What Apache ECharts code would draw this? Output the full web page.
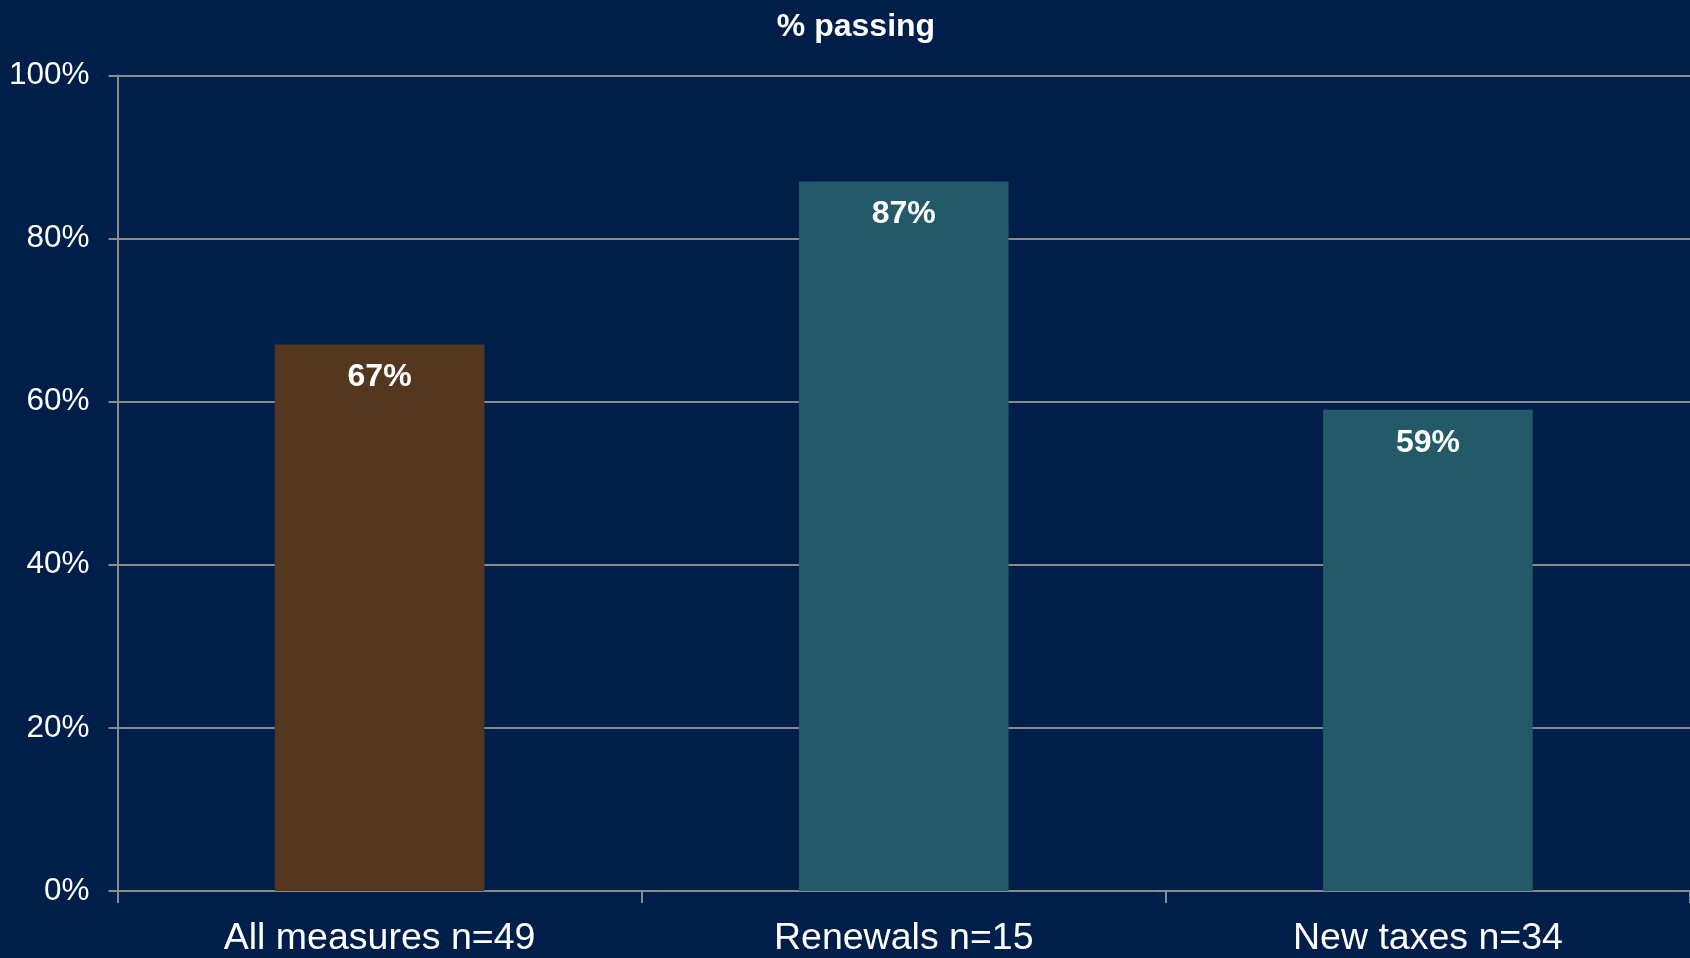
<!DOCTYPE html>
<html>
<head>
<meta charset="utf-8">
<title>% passing</title>
<script src="https://cdn.jsdelivr.net/npm/echarts@6/dist/echarts.min.js"></script>
<style>
  html, body { margin: 0; padding: 0; background: #001E4A; }
  #chart { width: 1690px; height: 958px; }
</style>
</head>
<body>
<div id="chart"></div>
<script>
// Share of measures passing, by measure type
const categories = ['All measures n=49', 'Renewals n=15', 'New taxes n=34'];
const passingPct = [67, 87, 59];
const yTicks = [0, 20, 40, 60, 80, 100];

const FONT = '"Liberation Sans", Arial, sans-serif';
const barFill = ['#54371F', '#225A68', '#225A68'];
const axisGray = '#8A8A8A';

const chart = echarts.init(document.getElementById('chart'), null, { renderer: 'canvas' });

chart.setOption({
  backgroundColor: '#001E4A',
  animation: false,
  title: {
    text: '% passing',
    left: 851,
    top: 6,
    textAlign: 'center',
    textStyle: { color: '#FFFFFF', fontFamily: FONT, fontWeight: 'bold', fontSize: 32 }
  },
  grid: { left: 117.5, right: 0, top: 75.5, bottom: 64.5, containLabel: false },
  xAxis: {
    type: 'category',
    data: categories,
    boundaryGap: true,
    axisLine: { lineStyle: { color: axisGray, width: 2 } },
    axisTick: { show: true, length: 12, alignWithLabel: false, lineStyle: { color: axisGray, width: 2 } },
    axisLabel: { color: '#FFFFFF', fontFamily: FONT, fontSize: 37.5, margin: 29, interval: 0 },
    splitLine: { show: false }
  },
  yAxis: {
    type: 'value',
    min: yTicks[0],
    max: yTicks[yTicks.length - 1],
    interval: yTicks[1] - yTicks[0],
    axisLine: { show: true, lineStyle: { color: axisGray, width: 2 } },
    axisTick: { show: true, length: 9, lineStyle: { color: axisGray, width: 2 } },
    axisLabel: { color: '#FFFFFF', fontFamily: FONT, fontSize: 31.5, margin: 28, formatter: '{value}%' },
    splitLine: { show: true, lineStyle: { color: axisGray, width: 2 } }
  },
  series: [{
    type: 'bar',
    data: passingPct.map((v, i) => ({ value: v, itemStyle: { color: barFill[i] } })),
    barWidth: '40%',
    label: {
      show: true,
      position: 'insideTop',
      distance: 17,
      formatter: '{c}%',
      color: '#FFFFFF',
      fontFamily: FONT,
      fontWeight: 'bold',
      fontSize: 32
    }
  }]
});
</script>
</body>
</html>
